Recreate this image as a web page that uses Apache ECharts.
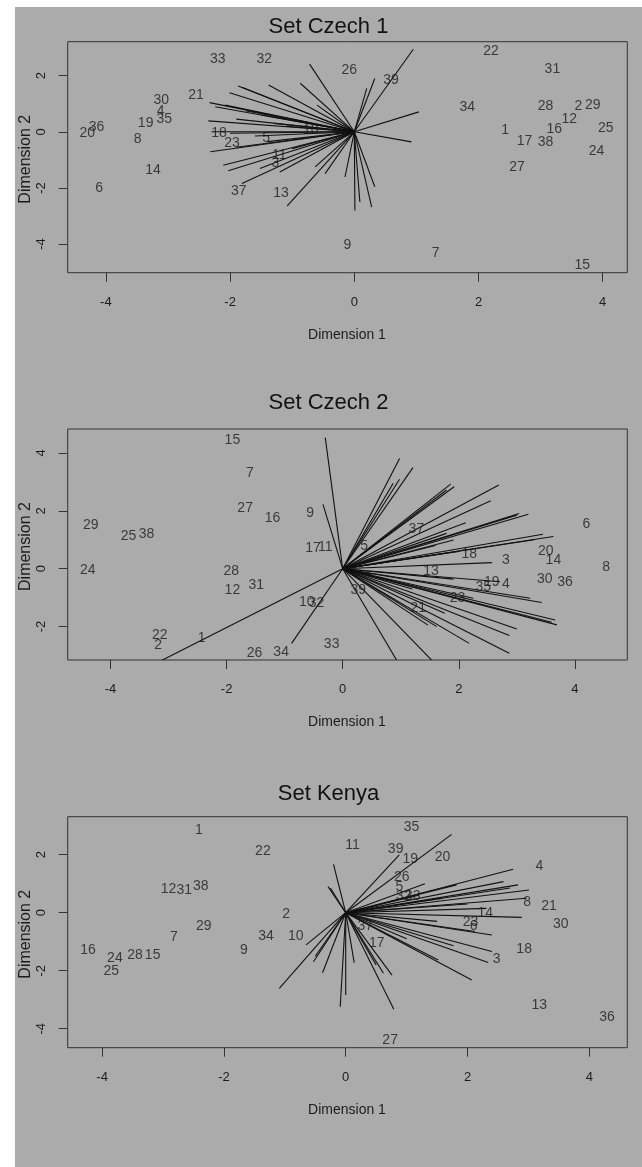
<!DOCTYPE html>
<html><head><meta charset="utf-8">
<script src="https://cdn.jsdelivr.net/npm/echarts@6/dist/echarts.min.js"></script>
<style>html,body{margin:0;padding:0;background:#fff;}#c{width:642px;height:1167px;}</style>
</head><body><div id="c"></div>
<script>
const pointIds = ['1','2','3','4','5','6','7','8','9','10','11','12','13','14','15','16','17','18','19','20','21','22','23','24','25','26','27','28','29','30','31','32','33','34','35','36','37','38','39'];

const czech1X = [2.43,3.61,-1.27,-3.12,-1.42,-4.11,1.31,-3.49,-0.11,-0.70,-1.21,3.46,-1.18,-3.24,3.67,3.22,2.74,-2.18,-3.36,-4.30,-2.55,2.20,-1.97,3.90,4.05,-0.08,2.62,3.08,3.84,-3.11,3.19,-1.45,-2.20,1.82,-3.06,-4.15,-1.86,3.08,0.59];
const czech1Y = [0.06,0.92,-1.13,0.75,-0.24,-2.00,-4.34,-0.27,-4.05,0.05,-0.83,0.45,-2.20,-1.38,-4.76,0.10,-0.33,-0.06,0.32,-0.06,1.29,2.86,-0.41,-0.68,0.12,2.18,-1.25,0.92,0.94,1.13,2.24,2.59,2.59,0.87,0.45,0.16,-2.12,-0.36,1.85];
const czech1Arrows = [[0.95,2.94],[1.04,0.71],[0.92,-0.36],[0.33,1.90],[0.20,1.55],[-0.72,2.41],[-0.87,1.73],[-0.60,0.95],[-1.38,1.67],[-1.87,1.63],[-1.80,1.58],[-2.01,1.39],[-2.33,1.04],[-2.24,0.89],[-2.08,0.95],[-1.75,0.75],[-2.35,0.39],[-1.90,0.45],[-2.30,0.00],[-2.00,-0.05],[-1.60,-0.15],[-2.32,-0.71],[-1.90,-0.55],[-2.11,-1.19],[-2.03,-1.39],[-1.81,-1.84],[-1.52,-1.31],[-1.20,-1.43],[-1.08,-2.64],[-0.63,-1.25],[-0.47,-1.49],[-0.15,-1.61],[0.01,-2.80],[0.09,-2.50],[0.28,-2.68],[0.33,-1.96],[-1.00,-0.60],[-1.40,-0.35],[-1.30,0.30],[-1.50,0.60],[-1.10,0.20]];

const czech2X = [-2.43,-3.18,2.81,2.81,0.37,4.20,-1.60,4.54,-0.56,-0.62,-0.30,-1.90,1.52,3.63,-1.90,-1.21,-0.51,2.18,2.57,3.50,1.30,-3.15,1.98,-4.39,-3.69,-1.52,-1.68,-1.92,-4.34,3.48,-1.49,-0.45,-0.19,-1.06,2.42,3.83,1.27,-3.38,0.27];
const czech2Y = [-2.40,-2.64,0.28,-0.54,0.79,1.54,3.30,0.07,1.91,-1.14,0.76,-0.74,-0.08,0.30,4.45,1.74,0.70,0.50,-0.45,0.59,-1.37,-2.29,-1.02,-0.04,1.11,-2.90,2.09,-0.10,1.51,-0.36,-0.56,-1.20,-2.61,-2.87,-0.62,-0.47,1.36,1.20,-0.74];
const czech2Arrows = [[-0.30,4.53],[-0.34,2.22],[0.98,3.81],[1.21,3.49],[0.98,3.09],[0.87,2.95],[1.86,2.92],[1.92,2.83],[1.79,2.72],[2.69,2.89],[2.55,2.35],[2.12,1.59],[3.04,1.91],[3.20,1.88],[3.00,1.85],[1.79,1.22],[1.91,0.99],[1.60,0.80],[3.45,1.19],[3.63,1.11],[3.30,1.00],[2.57,0.21],[1.91,-0.36],[2.71,-0.45],[3.43,-1.17],[3.23,-1.02],[3.66,-1.77],[3.69,-1.94],[3.60,-1.85],[3.00,-2.08],[2.87,-2.31],[2.18,-2.58],[2.87,-2.92],[1.76,-1.54],[1.62,-2.00],[1.47,-1.95],[1.00,-3.40],[1.65,-3.40],[-3.15,-3.20],[-0.88,-2.58],[2.25,-1.02],[1.20,-0.70],[1.00,0.30],[2.00,0.60],[0.50,-0.20]];

const kenyaX = [-2.41,-0.98,2.48,3.18,0.88,2.10,-2.82,2.98,-1.67,-0.82,0.11,-2.91,3.18,2.29,-3.17,-4.23,0.51,2.93,1.06,1.59,3.34,-1.36,2.05,-3.79,-3.85,0.92,0.73,-3.46,-2.33,3.53,-2.65,0.95,1.10,-1.31,1.08,4.29,0.32,-2.38,0.82];
const kenyaY = [2.85,-0.04,-1.60,1.62,0.87,-0.48,-0.85,0.38,-1.29,-0.80,2.33,0.81,-3.18,0.00,-1.48,-1.29,-1.06,-1.25,1.85,1.91,0.23,2.13,-0.31,-1.57,-2.00,1.24,-4.39,-1.48,-0.48,-0.39,0.78,0.58,0.58,-0.80,2.94,-3.59,-0.48,0.90,2.20];
const kenyaArrows = [[1.74,2.70],[0.88,1.99],[-0.20,1.67],[-0.29,0.90],[-0.25,0.85],[-0.65,-1.11],[-1.09,-2.61],[-0.53,-1.69],[-0.38,-2.07],[-0.09,-3.24],[0.00,-2.84],[0.14,-1.72],[0.79,-3.33],[0.76,-2.15],[0.62,-2.09],[0.50,-1.80],[2.75,1.50],[2.59,1.07],[2.83,0.96],[3.01,0.78],[2.70,0.85],[2.97,0.50],[2.89,-0.16],[2.40,-0.77],[2.40,-1.34],[2.34,-1.72],[2.07,-2.32],[2.12,-0.65],[2.31,0.15],[1.82,0.96],[1.52,-1.63],[1.77,-1.14],[1.60,0.50],[2.00,0.30],[1.50,-0.30],[1.20,0.60],[1.00,-0.90],[-0.50,-1.50],[1.30,1.00]];

const titles = ['Set Czech 1','Set Czech 2','Set Kenya'];
const xName = 'Dimension 1';
const yName = 'Dimension 2';
const xTicks = [-4,-2,0,2,4];
const yTicks1 = [-4,-2,0,2];
const yTicks2 = [-2,0,2,4];
const yTicks3 = [-4,-2,0,2];
const xRanges = [[-4.615,4.396],[-4.737,4.903],[-4.565,4.624]];
const yRanges = [[-5.02,3.21],[-3.154,4.826],[-4.655,3.31]];

const panels = [
  {x: czech1X, y: czech1Y, arrows: czech1Arrows, yTicks: yTicks1, top: 41.7},
  {x: czech2X, y: czech2Y, arrows: czech2Arrows, yTicks: yTicks2, top: 429},
  {x: kenyaX, y: kenyaY, arrows: kenyaArrows, yTicks: yTicks3, top: 816.7}
];
const titleY = [27, 402.5, 793.5];
const GRID_H = 231;

const BG = '#ababab';
const INK = '#1c1c1c';
const sans = '"Liberation Sans",Arial,sans-serif';

const grids = [], xAxes = [], yAxes = [], series = [], graphics = [];
graphics.push({type:'rect', left:15, top:7, shape:{x:0,y:0,width:627,height:1160}, style:{fill:BG}, z:-10, silent:true});

panels.forEach((p, i) => {
  grids.push({left:67.7, top:p.top, width:559.6, height:GRID_H, show:true, borderColor:'#333', borderWidth:1, backgroundColor:'transparent'});
  xAxes.push({
    gridIndex:i, type:'value', min:xRanges[i][0], max:xRanges[i][1], position:'bottom',
    axisLine:{show:false, onZero:false}, splitLine:{show:false},
    axisTick:{show:true, length:9, lineStyle:{color:'#333'}, customValues:xTicks},
    axisLabel:{fontFamily:sans, fontSize:13, color:INK, margin:23, customValues:xTicks}
  });
  yAxes.push({
    gridIndex:i, type:'value', min:yRanges[i][0], max:yRanges[i][1], position:'left',
    axisLine:{show:false, onZero:false}, splitLine:{show:false},
    axisTick:{show:true, length:9, lineStyle:{color:'#333'}, customValues:p.yTicks},
    axisLabel:{fontFamily:sans, fontSize:13, color:INK, margin:20, rotate:90, customValues:p.yTicks}
  });
  series.push({
    type:'custom', xAxisIndex:i, yAxisIndex:i, clip:true, silent:true,
    data:p.arrows,
    renderItem:(params, api) => {
      const a = api.coord([0,0]);
      const b = api.coord([api.value(0), api.value(1)]);
      return {type:'line', shape:{x1:a[0], y1:a[1], x2:b[0], y2:b[1]}, style:{stroke:'#111', lineWidth:1.1}};
    }
  });
  series.push({
    type:'scatter', xAxisIndex:i, yAxisIndex:i, symbolSize:0, itemStyle:{color:'rgba(0,0,0,0)'}, silent:true,
    data:p.x.map((v, k) => [v, p.y[k], pointIds[k]]),
    label:{show:true, position:'inside', formatter:(d) => d.data[2], fontFamily:sans, fontSize:14, color:INK},
    z:5
  });
  graphics.push({type:'text', x:328.5, y:titleY[i], style:{text:titles[i], fontFamily:sans, fontSize:22, fill:'#111', textAlign:'center', textVerticalAlign:'middle'}, z:10});
  graphics.push({type:'text', x:347, y:p.top + GRID_H + 62, style:{text:xName, fontFamily:sans, fontSize:14, fill:INK, textAlign:'center', textVerticalAlign:'middle'}, z:10});
  graphics.push({type:'text', x:25.5, y:p.top + GRID_H/2 + 2, rotation:Math.PI/2, style:{text:yName, fontFamily:sans, fontSize:16, fill:INK, textAlign:'center', textVerticalAlign:'middle'}, z:10});
});

const chart = echarts.init(document.getElementById('c'), null, {renderer:'canvas'});
chart.setOption({
  backgroundColor:'#ffffff',
  animation:false,
  grid:grids, xAxis:xAxes, yAxis:yAxes, series:series, graphic:graphics
});
</script></body></html>
